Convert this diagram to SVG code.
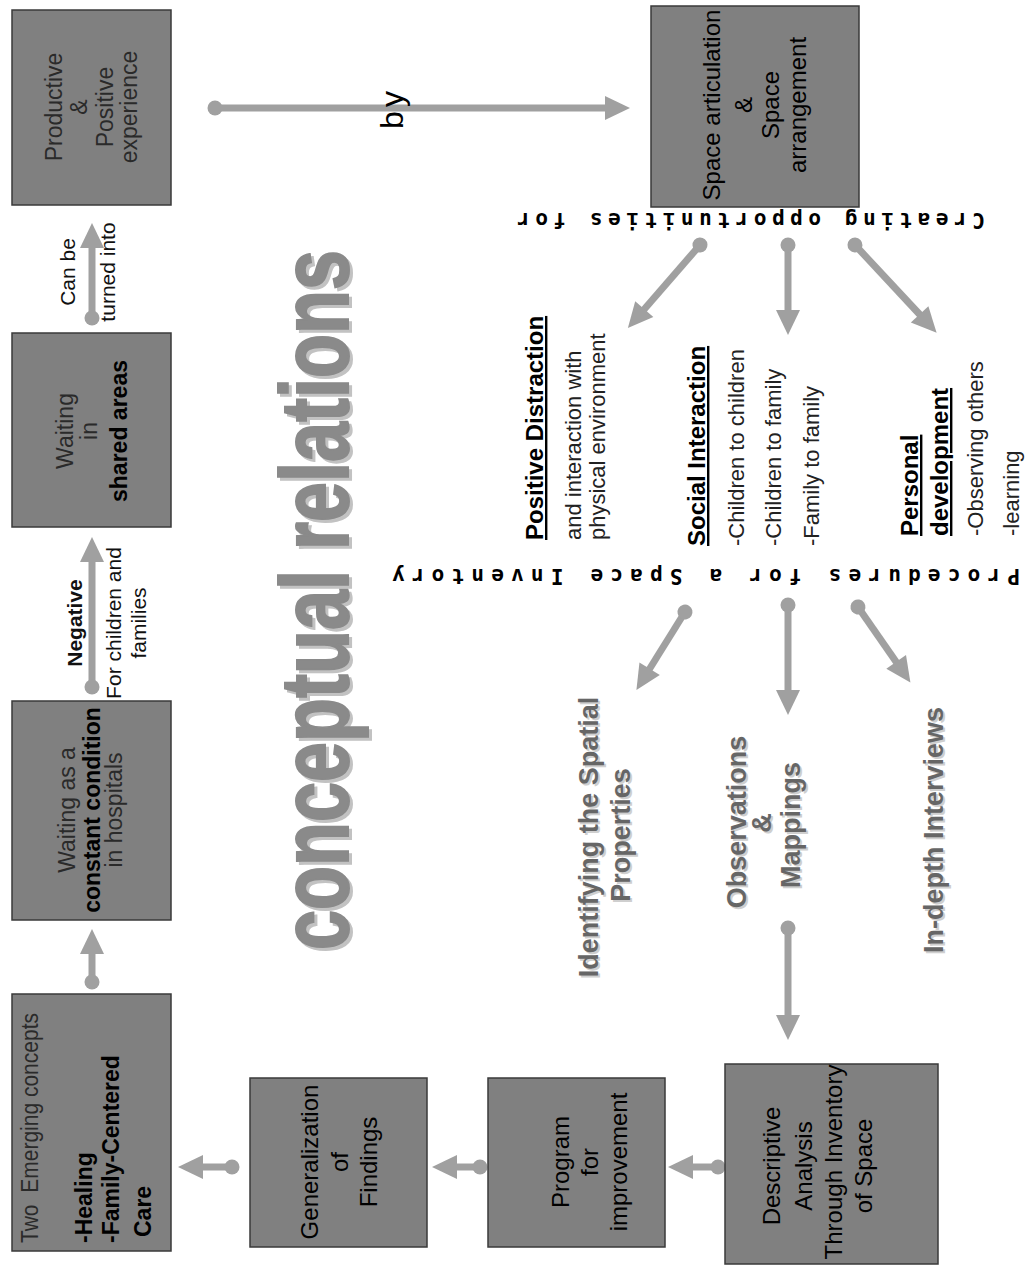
<svg xmlns="http://www.w3.org/2000/svg" width="1036" height="1266" viewBox="0 0 1036 1266">
  <style>
    text { font-family: "Liberation Sans", Arial, sans-serif; }
    .box { fill: #808080; stroke: #3a3a3a; stroke-width: 1.5; }
    .n { font-size: 23px; fill: #2a2a2a; }
    .b { font-size: 23px; font-weight: bold; fill: #000; }
    .k { font-size: 24px; fill: #000; }
    .lbl { font-size: 21px; fill: #111; }
    .hd { font-size: 24px; font-weight: bold; fill: #000; text-decoration: underline; }
    .it { font-size: 22px; fill: #222; }
    .proc { font-size: 27px; font-weight: bold; fill: #666; }
    .procsh { font-size: 27px; font-weight: bold; fill: #cfcfcf; }
    .flip { font-family: "DejaVu Sans Mono", "Liberation Mono", monospace; font-size: 21px; font-weight: bold; fill: #000; }
    .conn { stroke: #a0a0a0; stroke-width: 7; fill: none; marker-start: url(#dot); marker-end: url(#head); }
    .title { font-size: 96px; font-weight: bold; stroke-width: 2; }
  </style>
  <defs>
    <marker id="dot" markerUnits="userSpaceOnUse" markerWidth="18" markerHeight="18" refX="9" refY="9" orient="auto" overflow="visible">
      <circle cx="9" cy="9" r="7.5" fill="#a0a0a0"/>
    </marker>
    <marker id="head" markerUnits="userSpaceOnUse" markerWidth="26" markerHeight="24" refX="5" refY="12" orient="auto" overflow="visible">
      <path d="M0,0 L25,12 L0,24 z" fill="#a0a0a0"/>
    </marker>
  </defs>

  <!-- connectors -->
  <g id="connectors">
    <line class="conn" x1="92" y1="982" x2="92" y2="949"/>
    <line class="conn" x1="92" y1="687" x2="92" y2="557"/>
    <line class="conn" x1="92" y1="318" x2="92" y2="243"/>
    <line class="conn" x1="215" y1="108" x2="610" y2="108"/>
    <line class="conn" x1="700" y1="245" x2="641" y2="313"/>
    <line class="conn" x1="788" y1="245" x2="788" y2="315"/>
    <line class="conn" x1="855" y1="245" x2="923" y2="318"/>
    <line class="conn" x1="685" y1="612" x2="647" y2="673"/>
    <line class="conn" x1="788" y1="605" x2="788" y2="695"/>
    <line class="conn" x1="858" y1="607" x2="899" y2="666"/>
    <line class="conn" x1="788" y1="928" x2="788" y2="1020"/>
    <line class="conn" x1="718" y1="1167" x2="688" y2="1167"/>
    <line class="conn" x1="480" y1="1167" x2="452" y2="1167"/>
    <line class="conn" x1="232" y1="1167" x2="198" y2="1167"/>
  </g>

  <!-- connector labels -->
  <g id="labels">
    <text class="lbl" transform="translate(75,272) rotate(-90)" text-anchor="middle">Can be</text>
    <text class="lbl" transform="translate(115,272) rotate(-90)" text-anchor="middle">turned into</text>
    <text class="lbl" transform="translate(82,623) rotate(-90)" text-anchor="middle" font-weight="bold" fill="#000">Negative</text>
    <text class="lbl" transform="translate(121,623) rotate(-90)" text-anchor="middle">For children and</text>
    <text class="lbl" transform="translate(146,623) rotate(-90)" text-anchor="middle">families</text>
    <text transform="translate(403,108) rotate(-90)" text-anchor="middle" font-size="32" letter-spacing="4" fill="#000">by</text>
  </g>

  <!-- title -->
  <g id="title">
    <text class="title" fill="#c2c2c2" stroke="#c2c2c2" transform="translate(351,603) rotate(-90)" text-anchor="middle" textLength="700" lengthAdjust="spacingAndGlyphs">conceptual relations</text>
    <text class="title" fill="#8a8a8a" stroke="#8a8a8a" transform="translate(348,600) rotate(-90)" text-anchor="middle" textLength="700" lengthAdjust="spacingAndGlyphs">conceptual relations</text>
  </g>

  <!-- left column -->
  <g id="node-productive">
    <rect class="box" x="12" y="10" width="159" height="195"/>
    <text class="n" transform="translate(62,107) rotate(-90)" text-anchor="middle">Productive</text>
    <text class="n" transform="translate(87,107) rotate(-90)" text-anchor="middle">&amp;</text>
    <text class="n" transform="translate(113,107) rotate(-90)" text-anchor="middle">Positive</text>
    <text class="n" transform="translate(137,107) rotate(-90)" text-anchor="middle">experience</text>
  </g>
  <g id="node-shared">
    <rect class="box" x="12" y="333" width="159" height="194"/>
    <text class="n" transform="translate(73,431) rotate(-90)" text-anchor="middle">Waiting</text>
    <text class="n" transform="translate(97,431) rotate(-90)" text-anchor="middle">in</text>
    <text class="b" transform="translate(127,431) rotate(-90)" text-anchor="middle">shared areas</text>
  </g>
  <g id="node-waiting">
    <rect class="box" x="12" y="701" width="159" height="219"/>
    <text class="n" font-size="22" transform="translate(75,810) rotate(-90)" text-anchor="middle">Waiting as a</text>
    <text class="b" font-size="22" transform="translate(100,810) rotate(-90)" text-anchor="middle">constant condition</text>
    <text class="n" font-size="22" transform="translate(122,810) rotate(-90)" text-anchor="middle">in hospitals</text>
  </g>
  <g id="node-concepts">
    <rect class="box" x="12" y="994" width="159" height="257"/>
    <text class="n" font-size="21" style="white-space:pre" transform="translate(38,1243) rotate(-90)" textLength="230" lengthAdjust="spacingAndGlyphs">Two  Emerging concepts</text>
    <text class="b" font-size="24" transform="translate(92,1243) rotate(-90)">-Healing</text>
    <text class="b" font-size="24" transform="translate(119,1243) rotate(-90)">-Family-Centered</text>
    <text class="b" font-size="24" transform="translate(151,1237) rotate(-90)">Care</text>
  </g>

  <!-- bottom row -->
  <g id="node-generalization">
    <rect class="box" x="250" y="1078" width="177" height="169"/>
    <text class="k" transform="translate(318,1162) rotate(-90)" text-anchor="middle">Generalization</text>
    <text class="k" transform="translate(348,1162) rotate(-90)" text-anchor="middle">of</text>
    <text class="k" transform="translate(377,1162) rotate(-90)" text-anchor="middle">Findings</text>
  </g>
  <g id="node-program">
    <rect class="box" x="488" y="1078" width="177" height="169"/>
    <text class="k" transform="translate(569,1162) rotate(-90)" text-anchor="middle">Program</text>
    <text class="k" transform="translate(598,1162) rotate(-90)" text-anchor="middle">for</text>
    <text class="k" transform="translate(627,1162) rotate(-90)" text-anchor="middle">improvement</text>
  </g>
  <g id="node-descriptive">
    <rect class="box" x="725" y="1064" width="213" height="200"/>
    <text class="k" transform="translate(780,1166) rotate(-90)" text-anchor="middle">Descriptive</text>
    <text class="k" transform="translate(812,1166) rotate(-90)" text-anchor="middle">Analysis</text>
    <text class="k" transform="translate(842,1162) rotate(-90)" text-anchor="middle">Through Inventory</text>
    <text class="k" transform="translate(872,1166) rotate(-90)" text-anchor="middle">of Space</text>
  </g>

  <!-- top right -->
  <g id="node-space">
    <rect class="box" x="651" y="6" width="208" height="201"/>
    <text class="k" transform="translate(720,105) rotate(-90)" text-anchor="middle">Space articulation</text>
    <text class="k" transform="translate(752,105) rotate(-90)" text-anchor="middle">&amp;</text>
    <text class="k" transform="translate(779,105) rotate(-90)" text-anchor="middle">Space</text>
    <text class="k" transform="translate(806,105) rotate(-90)" text-anchor="middle">arrangement</text>
  </g>

  <!-- upside-down headings -->
  <g id="heading-opportunities">
    <text class="flip" transform="translate(751,213) rotate(180)" text-anchor="middle" textLength="468" lengthAdjust="spacing">Creating opportunities for</text>
  </g>
  <g id="heading-procedures">
    <text class="flip" transform="translate(706,569) rotate(180)" text-anchor="middle" textLength="628" lengthAdjust="spacing">Procedures for a Space Inventory</text>
  </g>

  <!-- opportunities -->
  <g id="node-distraction">
    <text class="hd" transform="translate(543,540) rotate(-90)">Positive Distraction</text>
    <text class="it" transform="translate(581,540) rotate(-90)">and interaction with</text>
    <text class="it" transform="translate(605,540) rotate(-90)">physical environment</text>
  </g>
  <g id="node-social">
    <text class="hd" transform="translate(705,546) rotate(-90)">Social Interaction</text>
    <text class="it" transform="translate(744,546) rotate(-90)">-Children to children</text>
    <text class="it" transform="translate(781,546) rotate(-90)">-Children to family</text>
    <text class="it" transform="translate(819,546) rotate(-90)">-Family to family</text>
  </g>
  <g id="node-personal">
    <text class="hd" transform="translate(918,536) rotate(-90)">Personal</text>
    <text class="hd" transform="translate(948,536) rotate(-90)">development</text>
    <text class="it" transform="translate(983,536) rotate(-90)">-Observing others</text>
    <text class="it" transform="translate(1019,536) rotate(-90)">-learning</text>
  </g>

  <!-- procedures -->
  <g id="node-spatial">
    <text class="procsh" transform="translate(600,839) rotate(-90)" text-anchor="middle">Identifying the Spatial</text>
    <text class="proc" transform="translate(598,837) rotate(-90)" text-anchor="middle">Identifying the Spatial</text>
    <text class="procsh" transform="translate(632,837) rotate(-90)" text-anchor="middle">Properties</text>
    <text class="proc" transform="translate(630,835) rotate(-90)" text-anchor="middle">Properties</text>
  </g>
  <g id="node-observations">
    <text class="procsh" transform="translate(748,824) rotate(-90)" text-anchor="middle">Observations</text>
    <text class="proc" transform="translate(746,822) rotate(-90)" text-anchor="middle">Observations</text>
    <text class="procsh" transform="translate(773,825) rotate(-90)" text-anchor="middle">&amp;</text>
    <text class="proc" transform="translate(771,823) rotate(-90)" text-anchor="middle">&amp;</text>
    <text class="procsh" transform="translate(802,827) rotate(-90)" text-anchor="middle">Mappings</text>
    <text class="proc" transform="translate(800,825) rotate(-90)" text-anchor="middle">Mappings</text>
  </g>
  <g id="node-interviews">
    <text class="procsh" transform="translate(945,832) rotate(-90)" text-anchor="middle">In-depth Interviews</text>
    <text class="proc" transform="translate(943,830) rotate(-90)" text-anchor="middle">In-depth Interviews</text>
  </g>
</svg>
